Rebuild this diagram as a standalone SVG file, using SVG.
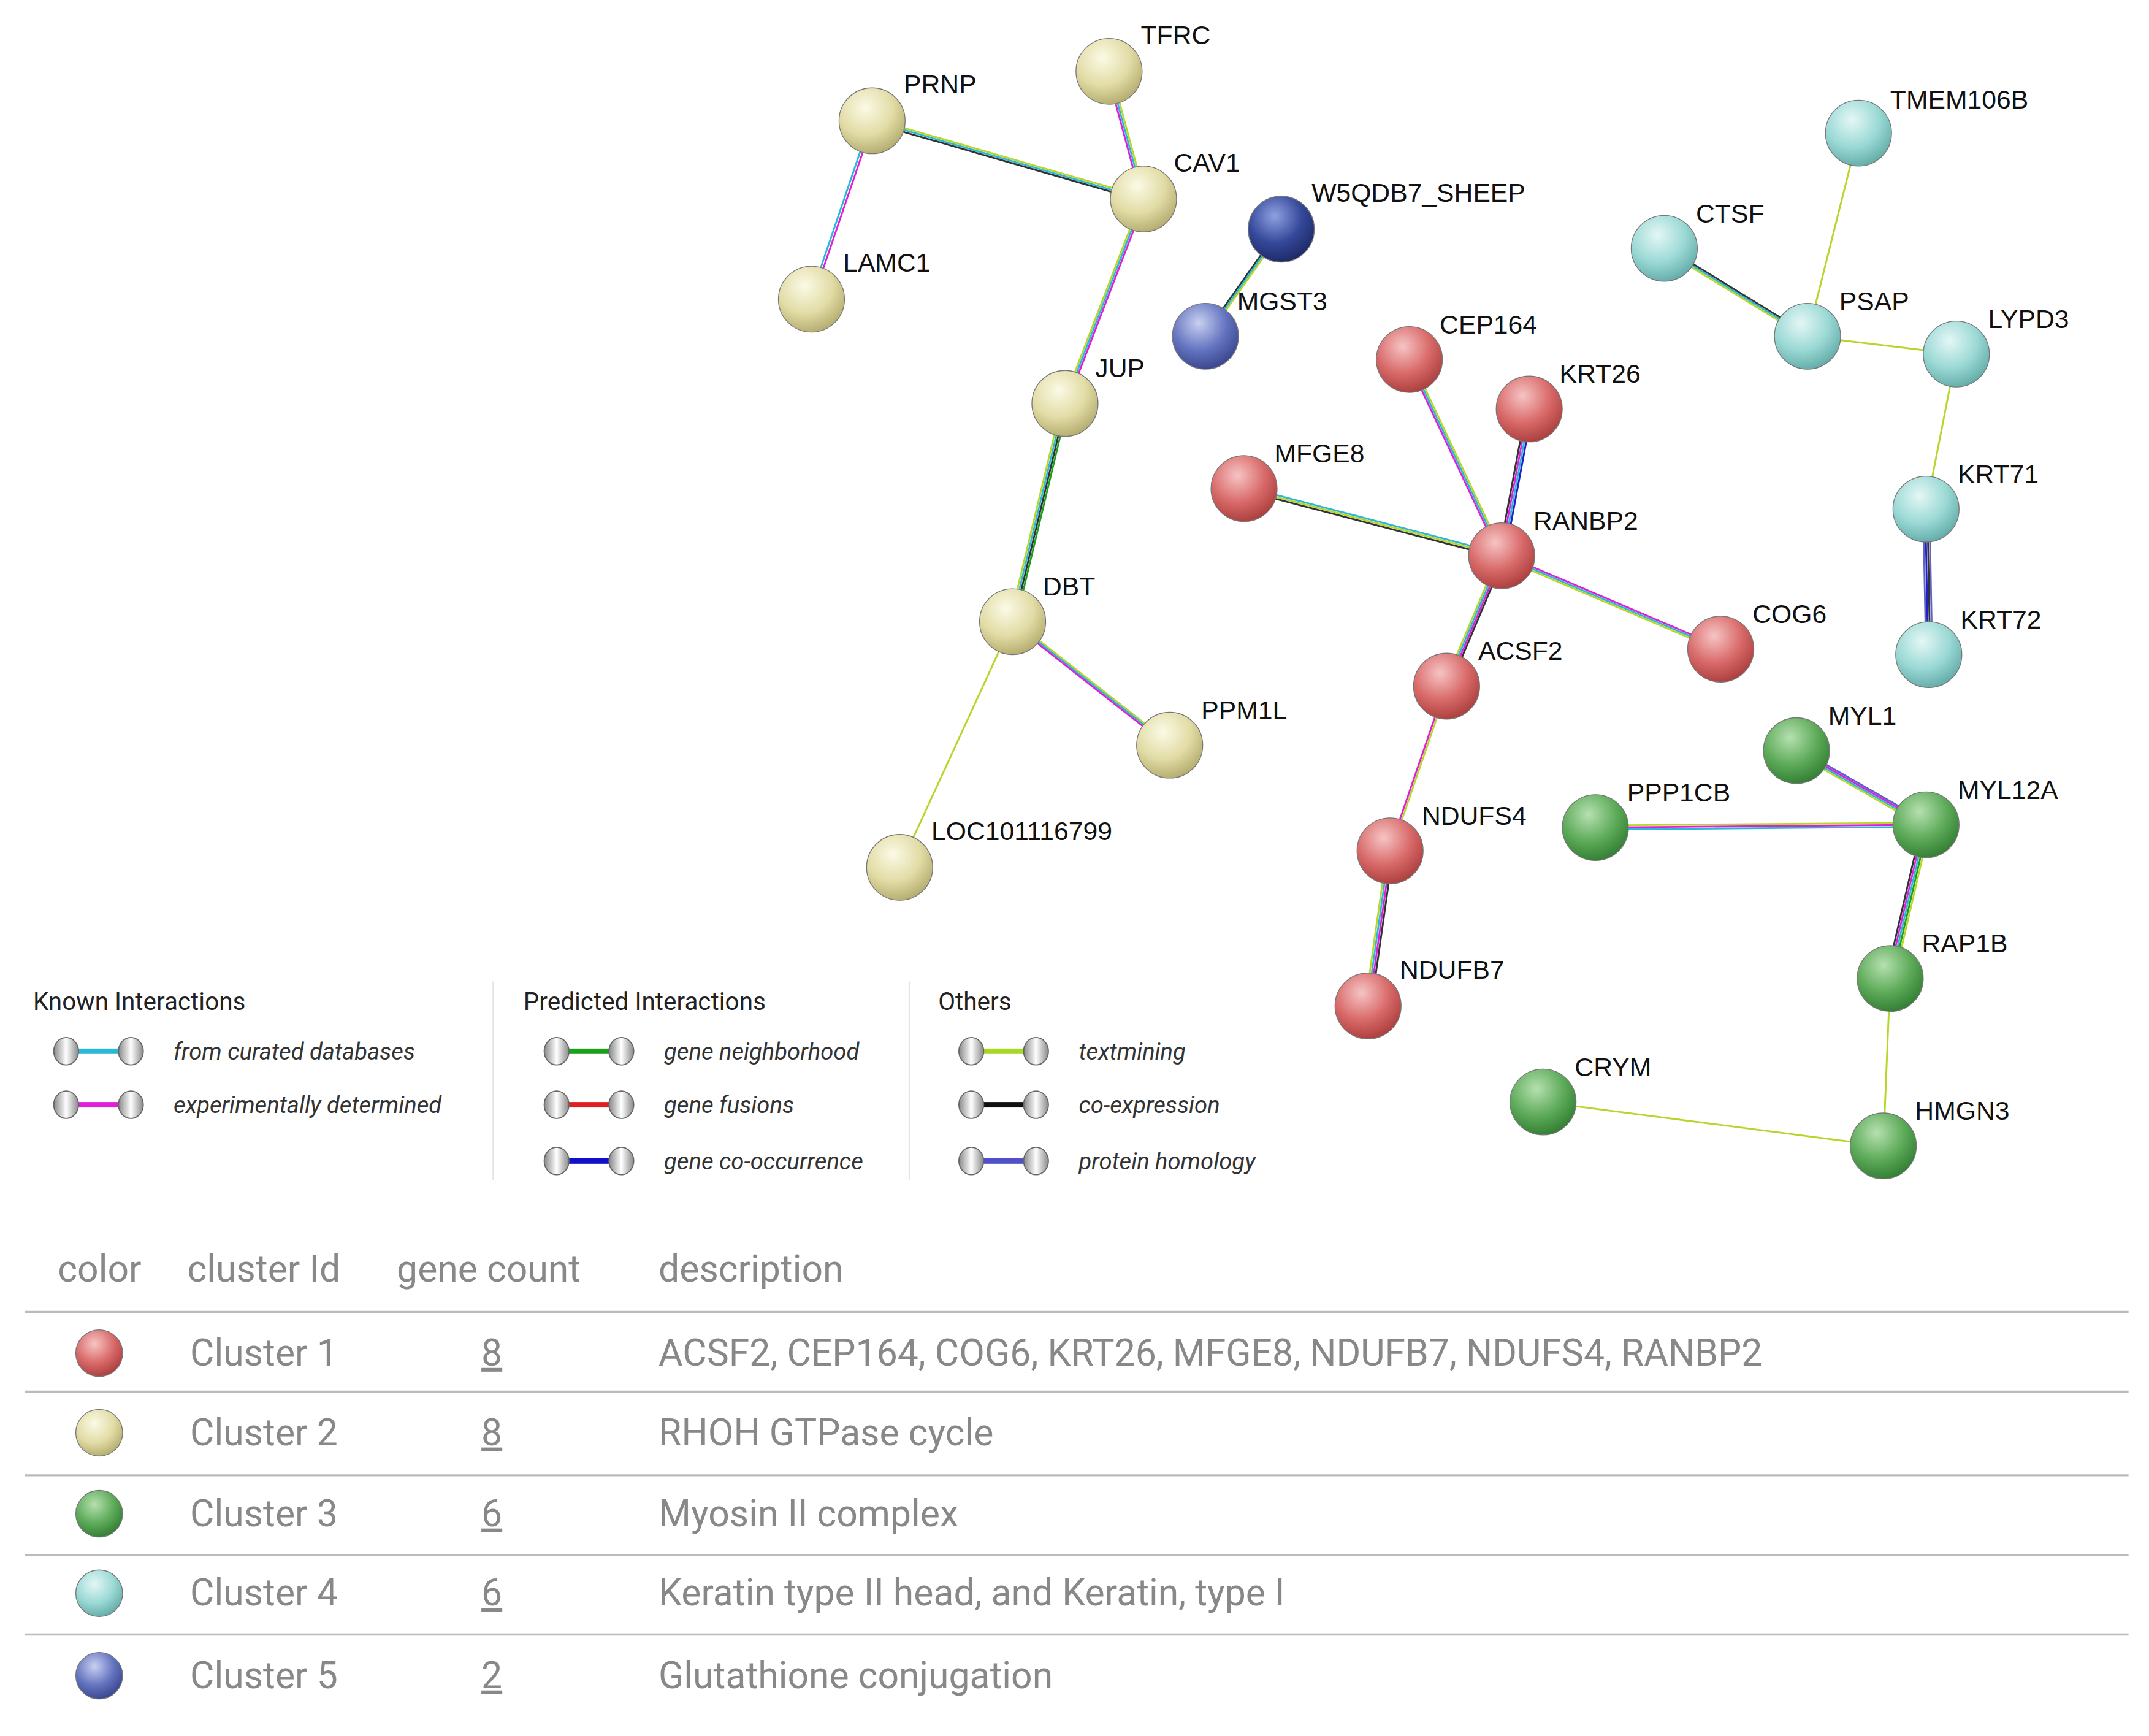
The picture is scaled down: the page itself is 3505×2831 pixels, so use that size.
<svg xmlns="http://www.w3.org/2000/svg" width="3505" height="2831" viewBox="0 0 3505 2831">
<defs>
<radialGradient id="gr" cx="0.4" cy="0.3" r="0.75"><stop offset="0" stop-color="#f6c4c4"/><stop offset="0.55" stop-color="#d96a6a"/><stop offset="1" stop-color="#a83a3a"/></radialGradient>
<radialGradient id="gy" cx="0.4" cy="0.3" r="0.75"><stop offset="0" stop-color="#fbfae6"/><stop offset="0.55" stop-color="#e2dca6"/><stop offset="1" stop-color="#b0a86a"/></radialGradient>
<radialGradient id="gg" cx="0.4" cy="0.3" r="0.75"><stop offset="0" stop-color="#b6e0b0"/><stop offset="0.55" stop-color="#5eab5a"/><stop offset="1" stop-color="#2f7a30"/></radialGradient>
<radialGradient id="gc" cx="0.4" cy="0.3" r="0.75"><stop offset="0" stop-color="#e4f7f6"/><stop offset="0.55" stop-color="#9bd9d5"/><stop offset="1" stop-color="#5ea8a4"/></radialGradient>
<radialGradient id="gb" cx="0.4" cy="0.3" r="0.75"><stop offset="0" stop-color="#c8d0f0"/><stop offset="0.55" stop-color="#6474c0"/><stop offset="1" stop-color="#36418a"/></radialGradient>
<radialGradient id="gd" cx="0.4" cy="0.3" r="0.75"><stop offset="0" stop-color="#8fa0e0"/><stop offset="0.55" stop-color="#34489a"/><stop offset="1" stop-color="#1c2660"/></radialGradient>
<linearGradient id="gl" x1="0" y1="0" x2="1" y2="0"><stop offset="0" stop-color="#888"/><stop offset="0.5" stop-color="#fff"/><stop offset="1" stop-color="#888"/></linearGradient>
</defs>
<style>
.l{font-family:"Liberation Sans",Arial,sans-serif;font-size:19px;fill:#111}
.e line{stroke-width:1.3;fill:none}
.y{stroke:#b8d62a}.c{stroke:#2ab8d8}.m{stroke:#e020d8}.k{stroke:#333}.g{stroke:#1aa01a}.b{stroke:#2020c8}.p{stroke:#6060c8}
.n{stroke:#777;stroke-width:0.6}
.h{font-family:Roboto,"Liberation Sans",sans-serif;font-size:18px;fill:#222}
.it{font-family:Roboto,"Liberation Sans",sans-serif;font-size:17px;font-style:italic;fill:#333}
.t{font-family:Roboto,"Liberation Sans",sans-serif;font-size:27px;fill:#888}
.sep{stroke:#bbb;stroke-width:1.5}
.vs{stroke:#e4e4e4;stroke-width:1}
</style>
<rect width="3505" height="2831" fill="#fff"/>
<g transform="scale(2.247,2.238)">
<g id="connectors" class="e">
<line class="y" x1="633" y1="86.5" x2="830" y2="143.5"/><line class="c" x1="633" y1="88" x2="830" y2="145"/><line class="k" x1="633" y1="89.5" x2="830" y2="146.5"/>
<line class="c" x1="632" y1="88" x2="588" y2="218"/><line class="m" x1="634" y1="88" x2="590" y2="218"/>
<line class="m" x1="803.5" y1="52" x2="828.5" y2="145"/><line class="c" x1="805" y1="52" x2="830" y2="145"/><line class="y" x1="806.5" y1="52" x2="831.5" y2="145"/>
<line class="y" x1="828.5" y1="145" x2="771.5" y2="294"/><line class="c" x1="830" y1="145" x2="773" y2="294"/><line class="m" x1="831.5" y1="145" x2="774.5" y2="294"/>
<line class="k" x1="928.5" y1="167" x2="873.5" y2="245"/><line class="c" x1="930" y1="167" x2="875" y2="245"/><line class="y" x1="931.5" y1="167" x2="876.5" y2="245"/>
<line class="y" x1="770.8" y1="294" x2="732.8" y2="453"/><line class="c" x1="772.3" y1="294" x2="734.3" y2="453"/><line class="k" x1="773.8" y1="294" x2="735.8" y2="453"/><line class="g" x1="775.3" y1="294" x2="737.3" y2="453"/>
<line class="y" x1="735" y1="451.5" x2="849" y2="541.5"/><line class="c" x1="735" y1="453" x2="849" y2="543"/><line class="m" x1="735" y1="454.5" x2="849" y2="544.5"/>
<line class="y" x1="735" y1="453" x2="653" y2="632"/>
<line class="m" x1="1021.5" y1="262" x2="1088.5" y2="405"/><line class="c" x1="1023" y1="262" x2="1090" y2="405"/><line class="y" x1="1024.5" y1="262" x2="1091.5" y2="405"/>
<line class="k" x1="1107.8" y1="298" x2="1087.8" y2="405"/><line class="m" x1="1109.3" y1="298" x2="1089.3" y2="405"/><line class="c" x1="1110.8" y1="298" x2="1090.8" y2="405"/><line class="b" x1="1112.3" y1="298" x2="1092.3" y2="405"/>
<line class="c" x1="903" y1="354.5" x2="1090" y2="403.5"/><line class="y" x1="903" y1="356" x2="1090" y2="405"/><line class="k" x1="903" y1="357.5" x2="1090" y2="406.5"/>
<line class="m" x1="1090" y1="403.5" x2="1249" y2="471.5"/><line class="c" x1="1090" y1="405" x2="1249" y2="473"/><line class="y" x1="1090" y1="406.5" x2="1249" y2="474.5"/>
<line class="y" x1="1087.8" y1="405" x2="1047.8" y2="500"/><line class="c" x1="1089.3" y1="405" x2="1049.3" y2="500"/><line class="m" x1="1090.8" y1="405" x2="1050.8" y2="500"/><line class="k" x1="1092.3" y1="405" x2="1052.3" y2="500"/>
<line class="m" x1="1049.3" y1="500" x2="1008.3" y2="620"/><line class="y" x1="1050.8" y1="500" x2="1009.8" y2="620"/>
<line class="y" x1="1006.8" y1="620" x2="990.8" y2="733"/><line class="c" x1="1008.3" y1="620" x2="992.3" y2="733"/><line class="m" x1="1009.8" y1="620" x2="993.8" y2="733"/><line class="k" x1="1011.3" y1="620" x2="995.3" y2="733"/>
<line class="y" x1="1349" y1="97" x2="1312" y2="245"/>
<line class="k" x1="1208" y1="179.5" x2="1312" y2="243.5"/><line class="c" x1="1208" y1="181" x2="1312" y2="245"/><line class="y" x1="1208" y1="182.5" x2="1312" y2="246.5"/>
<line class="y" x1="1312" y1="245" x2="1420" y2="258"/>
<line class="y" x1="1420" y1="258" x2="1398" y2="371"/>
<line class="p" x1="1396" y1="371" x2="1398" y2="477"/><line class="b" x1="1397.5" y1="371" x2="1399.5" y2="477"/><line class="k" x1="1399" y1="371" x2="1401" y2="477"/><line class="p" x1="1400.5" y1="371" x2="1402.5" y2="477"/>
<line class="p" x1="1304" y1="544.8" x2="1398" y2="598.8"/><line class="m" x1="1304" y1="546.3" x2="1398" y2="600.3"/><line class="c" x1="1304" y1="547.8" x2="1398" y2="601.8"/><line class="y" x1="1304" y1="549.3" x2="1398" y2="603.3"/>
<line class="y" x1="1158" y1="601.5" x2="1398" y2="599.5"/><line class="m" x1="1158" y1="603" x2="1398" y2="601"/><line class="c" x1="1158" y1="604.5" x2="1398" y2="602.5"/>
<line class="k" x1="1395" y1="601" x2="1369" y2="713"/><line class="m" x1="1396.5" y1="601" x2="1370.5" y2="713"/><line class="c" x1="1398" y1="601" x2="1372" y2="713"/><line class="g" x1="1399.5" y1="601" x2="1373.5" y2="713"/><line class="y" x1="1401" y1="601" x2="1375" y2="713"/>
<line class="y" x1="1372" y1="713" x2="1367" y2="835"/>
<line class="y" x1="1120" y1="803" x2="1367" y2="835"/>
</g>
<g id="n-TFRC"><circle class="n" cx="805" cy="52" r="24" fill="url(#gy)"/><text class="l" x="828" y="32">TFRC</text></g>
<g id="n-PRNP"><circle class="n" cx="633" cy="88" r="24" fill="url(#gy)"/><text class="l" x="656" y="68">PRNP</text></g>
<g id="n-CAV1"><circle class="n" cx="830" cy="145" r="24" fill="url(#gy)"/><text class="l" x="852" y="125">CAV1</text></g>
<g id="n-LAMC1"><circle class="n" cx="589" cy="218" r="24" fill="url(#gy)"/><text class="l" x="612" y="198">LAMC1</text></g>
<g id="n-W5QDB7"><circle class="n" cx="930" cy="167" r="24" fill="url(#gd)"/><text class="l" x="952" y="147">W5QDB7_SHEEP</text></g>
<g id="n-MGST3"><circle class="n" cx="875" cy="245" r="24" fill="url(#gb)"/><text class="l" x="898" y="226">MGST3</text></g>
<g id="n-JUP"><circle class="n" cx="773" cy="294" r="24" fill="url(#gy)"/><text class="l" x="795" y="275">JUP</text></g>
<g id="n-DBT"><circle class="n" cx="735" cy="453" r="24" fill="url(#gy)"/><text class="l" x="757" y="434">DBT</text></g>
<g id="n-PPM1L"><circle class="n" cx="849" cy="543" r="24" fill="url(#gy)"/><text class="l" x="872" y="524">PPM1L</text></g>
<g id="n-LOC"><circle class="n" cx="653" cy="632" r="24" fill="url(#gy)"/><text class="l" x="676" y="612">LOC101116799</text></g>
<g id="n-CEP164"><circle class="n" cx="1023" cy="262" r="24" fill="url(#gr)"/><text class="l" x="1045" y="243">CEP164</text></g>
<g id="n-KRT26"><circle class="n" cx="1110" cy="298" r="24" fill="url(#gr)"/><text class="l" x="1132" y="279">KRT26</text></g>
<g id="n-MFGE8"><circle class="n" cx="903" cy="356" r="24" fill="url(#gr)"/><text class="l" x="925" y="337">MFGE8</text></g>
<g id="n-RANBP2"><circle class="n" cx="1090" cy="405" r="24" fill="url(#gr)"/><text class="l" x="1113" y="386">RANBP2</text></g>
<g id="n-COG6"><circle class="n" cx="1249" cy="473" r="24" fill="url(#gr)"/><text class="l" x="1272" y="454">COG6</text></g>
<g id="n-ACSF2"><circle class="n" cx="1050" cy="500" r="24" fill="url(#gr)"/><text class="l" x="1073" y="481">ACSF2</text></g>
<g id="n-NDUFS4"><circle class="n" cx="1009" cy="620" r="24" fill="url(#gr)"/><text class="l" x="1032" y="601">NDUFS4</text></g>
<g id="n-NDUFB7"><circle class="n" cx="993" cy="733" r="24" fill="url(#gr)"/><text class="l" x="1016" y="713">NDUFB7</text></g>
<g id="n-TMEM106B"><circle class="n" cx="1349" cy="97" r="24" fill="url(#gc)"/><text class="l" x="1372" y="79">TMEM106B</text></g>
<g id="n-CTSF"><circle class="n" cx="1208" cy="181" r="24" fill="url(#gc)"/><text class="l" x="1231" y="162">CTSF</text></g>
<g id="n-PSAP"><circle class="n" cx="1312" cy="245" r="24" fill="url(#gc)"/><text class="l" x="1335" y="226">PSAP</text></g>
<g id="n-LYPD3"><circle class="n" cx="1420" cy="258" r="24" fill="url(#gc)"/><text class="l" x="1443" y="239">LYPD3</text></g>
<g id="n-KRT71"><circle class="n" cx="1398" cy="371" r="24" fill="url(#gc)"/><text class="l" x="1421" y="352">KRT71</text></g>
<g id="n-KRT72"><circle class="n" cx="1400" cy="477" r="24" fill="url(#gc)"/><text class="l" x="1423" y="458">KRT72</text></g>
<g id="n-MYL1"><circle class="n" cx="1304" cy="547" r="24" fill="url(#gg)"/><text class="l" x="1327" y="528">MYL1</text></g>
<g id="n-MYL12A"><circle class="n" cx="1398" cy="601" r="24" fill="url(#gg)"/><text class="l" x="1421" y="582">MYL12A</text></g>
<g id="n-PPP1CB"><circle class="n" cx="1158" cy="603" r="24" fill="url(#gg)"/><text class="l" x="1181" y="584">PPP1CB</text></g>
<g id="n-RAP1B"><circle class="n" cx="1372" cy="713" r="24" fill="url(#gg)"/><text class="l" x="1395" y="694">RAP1B</text></g>
<g id="n-CRYM"><circle class="n" cx="1120" cy="803" r="24" fill="url(#gg)"/><text class="l" x="1143" y="784">CRYM</text></g>
<g id="n-HMGN3"><circle class="n" cx="1367" cy="835" r="24" fill="url(#gg)"/><text class="l" x="1390" y="816">HMGN3</text></g>

<g id="legend">
<line class="vs" x1="358" y1="715" x2="358" y2="860"/><line class="vs" x1="660" y1="715" x2="660" y2="860"/>
<text class="h" x="24" y="736">Known Interactions</text>
<text class="h" x="380" y="736">Predicted Interactions</text>
<text class="h" x="681" y="736">Others</text>
<g id="lg1"><rect x="48" y="764" width="48" height="4" fill="#2ab8d8"/><ellipse cx="48" cy="766" rx="9" ry="10" fill="url(#gl)" stroke="#666" stroke-width="0.8"/><ellipse cx="95" cy="766" rx="9" ry="10" fill="url(#gl)" stroke="#666" stroke-width="0.8"/><text class="it" x="126" y="772">from curated databases</text></g>
<g id="lg2"><rect x="48" y="803" width="48" height="4" fill="#e020d8"/><ellipse cx="48" cy="805" rx="9" ry="10" fill="url(#gl)" stroke="#666" stroke-width="0.8"/><ellipse cx="95" cy="805" rx="9" ry="10" fill="url(#gl)" stroke="#666" stroke-width="0.8"/><text class="it" x="126" y="811">experimentally determined</text></g>
<g id="lg3"><rect x="404" y="764" width="48" height="4" fill="#1aa01a"/><ellipse cx="404" cy="766" rx="9" ry="10" fill="url(#gl)" stroke="#666" stroke-width="0.8"/><ellipse cx="451" cy="766" rx="9" ry="10" fill="url(#gl)" stroke="#666" stroke-width="0.8"/><text class="it" x="482" y="772">gene neighborhood</text></g>
<g id="lg4"><rect x="404" y="803" width="48" height="4" fill="#e02020"/><ellipse cx="404" cy="805" rx="9" ry="10" fill="url(#gl)" stroke="#666" stroke-width="0.8"/><ellipse cx="451" cy="805" rx="9" ry="10" fill="url(#gl)" stroke="#666" stroke-width="0.8"/><text class="it" x="482" y="811">gene fusions</text></g>
<g id="lg5"><rect x="404" y="844" width="48" height="4" fill="#1010c8"/><ellipse cx="404" cy="846" rx="9" ry="10" fill="url(#gl)" stroke="#666" stroke-width="0.8"/><ellipse cx="451" cy="846" rx="9" ry="10" fill="url(#gl)" stroke="#666" stroke-width="0.8"/><text class="it" x="482" y="852">gene co-occurrence</text></g>
<g id="lg6"><rect x="705" y="764" width="48" height="4" fill="#a8d820"/><ellipse cx="705" cy="766" rx="9" ry="10" fill="url(#gl)" stroke="#666" stroke-width="0.8"/><ellipse cx="752" cy="766" rx="9" ry="10" fill="url(#gl)" stroke="#666" stroke-width="0.8"/><text class="it" x="783" y="772">textmining</text></g>
<g id="lg7"><rect x="705" y="803" width="48" height="4" fill="#111"/><ellipse cx="705" cy="805" rx="9" ry="10" fill="url(#gl)" stroke="#666" stroke-width="0.8"/><ellipse cx="752" cy="805" rx="9" ry="10" fill="url(#gl)" stroke="#666" stroke-width="0.8"/><text class="it" x="783" y="811">co-expression</text></g>
<g id="lg8"><rect x="705" y="844" width="48" height="4" fill="#5050c8"/><ellipse cx="705" cy="846" rx="9" ry="10" fill="url(#gl)" stroke="#666" stroke-width="0.8"/><ellipse cx="752" cy="846" rx="9" ry="10" fill="url(#gl)" stroke="#666" stroke-width="0.8"/><text class="it" x="783" y="852">protein homology</text></g>
</g>

<g id="table">
<text class="t" x="42" y="934">color</text><text class="t" x="136" y="934">cluster Id</text><text class="t" x="288" y="934">gene count</text><text class="t" x="478" y="934">description</text>
<line class="sep" x1="18" y1="956" x2="1545" y2="956"/><line class="sep" x1="18" y1="1014" x2="1545" y2="1014"/><line class="sep" x1="18" y1="1075" x2="1545" y2="1075"/><line class="sep" x1="18" y1="1133" x2="1545" y2="1133"/><line class="sep" x1="18" y1="1191" x2="1545" y2="1191"/>
<g id="row1"><circle class="n" cx="72" cy="986" r="17" fill="url(#gr)"/><text class="t" x="138" y="995">Cluster 1</text><text class="t" x="357" y="995" text-anchor="middle" text-decoration="underline">8</text><text class="t" x="478" y="995">ACSF2, CEP164, COG6, KRT26, MFGE8, NDUFB7, NDUFS4, RANBP2</text></g>
<g id="row2"><circle class="n" cx="72" cy="1044" r="17" fill="url(#gy)"/><text class="t" x="138" y="1053">Cluster 2</text><text class="t" x="357" y="1053" text-anchor="middle" text-decoration="underline">8</text><text class="t" x="478" y="1053">RHOH GTPase cycle</text></g>
<g id="row3"><circle class="n" cx="72" cy="1103" r="17" fill="url(#gg)"/><text class="t" x="138" y="1112">Cluster 3</text><text class="t" x="357" y="1112" text-anchor="middle" text-decoration="underline">6</text><text class="t" x="478" y="1112">Myosin II complex</text></g>
<g id="row4"><circle class="n" cx="72" cy="1161" r="17" fill="url(#gc)"/><text class="t" x="138" y="1170">Cluster 4</text><text class="t" x="357" y="1170" text-anchor="middle" text-decoration="underline">6</text><text class="t" x="478" y="1170">Keratin type II head, and Keratin, type I</text></g>
<g id="row5"><circle class="n" cx="72" cy="1221" r="17" fill="url(#gb)"/><text class="t" x="138" y="1230">Cluster 5</text><text class="t" x="357" y="1230" text-anchor="middle" text-decoration="underline">2</text><text class="t" x="478" y="1230">Glutathione conjugation</text></g>
</g>
</g>
</svg>
